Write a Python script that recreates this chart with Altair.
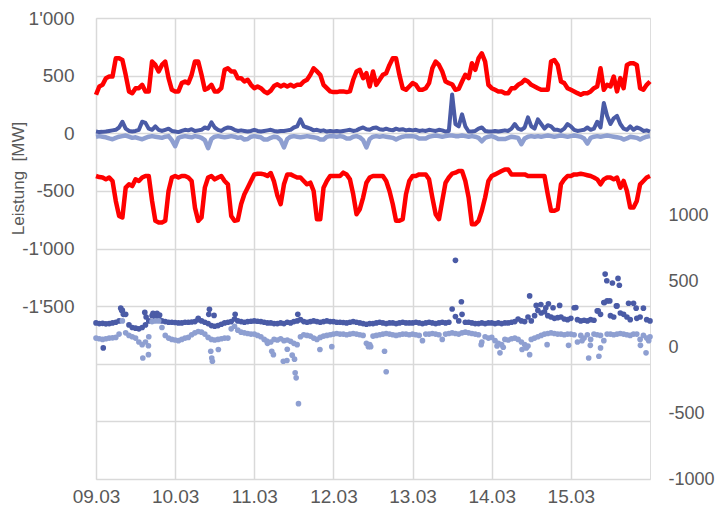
import altair as alt
import pandas as pd

hours = list(range(169))

# left axis series [MW]
red_upper = [334, 406, 420, 478, 492, 492, 650, 650, 635, 507, 363, 348, 391, 391, 420, 363, 363, 622, 593, 536, 593, 622, 478, 377,
             363, 363, 435, 449, 435, 507, 622, 622, 507, 377, 391, 420, 363, 363, 391, 550, 564, 536, 536, 478, 478, 449, 464, 420,
             391, 406, 391, 363, 348, 370, 410, 425, 406, 420, 406, 420, 406, 420, 420, 449, 464, 507, 564, 536, 507, 420, 391, 363,
             357, 357, 363, 363, 357, 363, 464, 536, 550, 478, 521, 406, 536, 420, 464, 507, 521, 593, 650, 650, 507, 391, 377, 406,
             435, 420, 377, 377, 391, 435, 564, 622, 593, 536, 449, 435, 425, 377, 385, 449, 507, 478, 607, 550, 650, 694, 622, 420,
             391, 377, 363, 363, 348, 348, 391, 391, 420, 435, 464, 449, 420, 406, 391, 377, 377, 377, 622, 636, 593, 449, 435, 391,
             377, 363, 348, 334, 348, 348, 363, 391, 406, 564, 377, 420, 406, 492, 363, 478, 391, 593, 607, 607, 593, 391, 377, 420, 449]
red_lower = [-371, -380, -384, -400, -384, -414, -587, -717, -731, -472, -443, -458, -400, -414, -384, -371, -371, -587, -760, -774, -774, -760, -501, -384,
             -371, -384, -371, -371, -384, -414, -645, -760, -731, -472, -384, -371, -400, -384, -371, -414, -443, -717, -760, -754, -616, -530, -472, -414,
             -357, -351, -351, -357, -371, -345, -420, -540, -616, -443, -357, -357, -371, -384, -384, -414, -443, -429, -501, -746, -746, -472, -414, -371,
             -371, -371, -371, -342, -357, -400, -530, -702, -659, -558, -429, -384, -371, -371, -371, -371, -414, -501, -616, -760, -760, -746, -530, -414,
             -371, -371, -357, -357, -357, -400, -558, -702, -746, -587, -429, -384, -350, -342, -328, -328, -414, -558, -789, -789, -760, -673, -558, -414,
             -371, -357, -342, -328, -314, -314, -357, -357, -357, -357, -357, -371, -371, -371, -371, -371, -371, -530, -673, -673, -659, -443, -400, -371,
             -371, -357, -357, -351, -357, -364, -371, -384, -400, -443, -400, -384, -384, -400, -384, -472, -414, -501, -645, -645, -587, -443, -414, -384, -371]
dark_line = [15, 10, 12, 15, 20, 25, 30, 50, 100, 40, 20, 15, 20, 30, 100, 90, 40, 30, 60, 30, 20, 30, 40, 20,
             15, 10, 20, 30, 25, 35, 20, 25, 30, 50, 40, 95, 50, 30, 20, 40, 50, 45, 30, 20, 25, 20, 15, 20,
             30, 20, 15, 20, 25, 30, 20, 15, 20, 20, 25, 30, 50, 60, 121, 60, 50, 40, 25, 30, 20, 25, 15, 20,
             15, 20, 15, 20, 25, 30, 20, 25, 40, 50, 35, 30, 45, 50, 35, 30, 40, 30, 25, 40, 30, 35, 25, 30,
             25, 30, 20, 25, 20, 30, 25, 20, 30, 25, 15, 20, 337, 80, 60, 164, 60, 15, 15, 20, 40, 50, 20, 15,
             15, 20, 15, 20, 25, 20, 40, 80, 40, 30, 50, 138, 60, 40, 120, 80, 40, 70, 60, 30, 30, 20, 40, 80,
             60, 30, 20, 25, 30, 50, 30, 40, 100, 50, 262, 150, 80, 130, 150, 80, 40, 30, 60, 30, 50, 40, 20, 25, 15]
light_line = [-30, -25, -30, -35, -45, -52, -40, -30, -25, -20, -30, -40, -35, -45, -52, -40, -30, -25, -30, -35, -40, -30, -25, -60,
              -112, -40, -30, -25, -30, -35, -25, -30, -40, -60, -130, -50, -30, -25, -30, -35, -30, -25, -30, -40, -35, -55, -50, -30,
              -25, -30, -35, -55, -55, -40, -30, -35, -60, -123, -50, -30, -25, -30, -35, -30, -25, -30, -35, -40, -55, -55, -30, -25,
              -25, -30, -25, -30, -45, -45, -30, -25, -35, -60, -123, -50, -30, -25, -30, -25, -30, -35, -40, -55, -40, -30, -25, -25,
              -25, -30, -45, -45, -45, -30, -25, -20, -25, -30, -25, -20, -20, -25, -25, -20, -25, -30, -25, -30, -40, -70, -40, -30,
              -25, -35, -50, -50, -50, -40, -30, -35, -40, -95, -45, -30, -25, -30, -25, -30, -25, -20, -25, -30, -25, -20, -25, -30,
              -25, -20, -25, -30, -45, -90, -40, -30, -25, -30, -25, -20, -25, -30, -35, -40, -55, -45, -30, -35, -40, -55, -40, -30, -25]

# right axis scatter series
dark_pts = [185, 180, 182, 178, 180, 185, 190, 200, 280, 250, 170, 150, 145, 140, 150, 170, 200, 240, 230, 220, 200, 195, 190, 190,
            188, 185, 185, 190, 190, 192, 195, 210, 200, 190, 180, 165, 160, 165, 175, 185, 190, 195, 215, 200, 195, 190, 195, 198,
            200, 198, 195, 190, 185, 185, 180, 180, 185, 180, 190, 185, 195, 200, 210, 195, 190, 195, 200, 195, 190, 195, 200, 195,
            195, 190, 190, 188, 185, 190, 195, 190, 185, 180, 175, 180, 180, 185, 190, 185, 180, 185, 185, 180, 185, 190, 185, 185,
            185, 190, 185, 180, 185, 190, 185, 180, 185, 190, 185, 190, 291, 233, 200, 250, 190, 190, 185, 180, 180, 185, 180, 185,
            185, 180, 185, 180, 185, 185, 190, 195, 215, 200, 195, 230, 200, 240, 280, 260, 270, 240, 230, 220, 225, 230, 215, 210,
            220, 300, 210, 200, 205, 200, 210, 205, 276, 250, 340, 352, 240, 230, 314, 260, 250, 230, 210, 334, 220, 230, 297, 210, 200]
light_pts = [70, 65, 60, 65, 70, 72, 75, 100, 200, 110, 90, 80, 70, 40, 20, 40, 80, 195, 200, 200, 150, 90, 70, 60,
             55, 50, 60, 70, 75, 95, 110, 120, 115, 100, 75, 60, 55, 60, 65, 70, 70, 140, 160, 130, 115, 110, 105, 100,
             100, 90, 80, 60, 30, 40, 60, 55, 65, 50, 55, 45, 30, 20, 80, 95, 90, 85, 70, 60, 75, 85, 90, 95,
             100, 105, 100, 100, 95, 100, 105, 100, 95, 90, 30, 20, 85, 90, 95, 100, 105, 100, 95, 90, 95, 100, 100, 95,
             100, 95, 90, 50, 100, 100, 105, 100, 95, 60, 100, 105, 110, 105, 100, 110, 115, 110, 105, 100, 95, 40, 80, 70,
             75, 50, 30, 20, 60, 55, 65, 70, 60, 40, 20, 10, 60, 70, 80, 90, 100, 105, 110, 105, 100, 100, 95, 100,
             100, 95, 40, 90, 70, 95, 60, 100, 95, 90, 50, 100, 100, 95, 100, 105, 100, 95, 90, 100, 100, 60, 90, 70, 80]

dark_extra_h = [2.2, 7.5, 7.8, 8.3, 14.8, 15.2, 17.3, 18.5, 19.3, 31, 34.4, 34.2, 35.8, 42.2, 61.2, 109, 110.8, 131.5, 133.5,
                134.9, 136.4, 137.2, 138.6, 140.6, 145.5, 152.3, 154.4, 154.9, 156.6, 158.3, 158.7, 154.2, 155.8, 157.8, 161.5, 163.8]
dark_extra_v = [-5, 297, 280, 250, 265, 230, 258, 258, 245, 219, 289, 250, 242, 250, 250, 660, 346, 390, 318,
                325, 300, 330, 300, 318, 302, 276, 556, 505, 488, 523, 471, 340, 352, 314, 334, 297]
light_extra_h = [14.2, 15.9, 15.9, 34.8, 35.1, 35.3, 37.1, 51.8, 53.3, 53.8, 56.8, 57.9, 58.0, 59.5, 60.2, 60.4, 60.7, 61.4,
                 67.9, 71.5, 82.6, 83.3, 87.5, 88.0, 116.8, 121.6, 122.5, 123.5, 129.2, 131.5, 130.5, 136.8, 143.3, 147.4,
                 149.4, 149.9, 152.5, 153.0, 165.1, 166.8, 167.6]
light_extra_v = [-81, -56, 12, -30, -81, -106, -17, 48, -30, -56, -106, -100, -15, -60, -90, -194, -232, -428,
                 -17, 5, 5, 5, -30, -186, 20, 10, -42, 0, -17, -56, -5, 20, 15, 50,
                 -81, 15, -68, -5, 15, -42, 50]

day_ticks = [0, 24, 48, 72, 96, 120, 144]

RED = "#FF0000"
DARK = "#4A5BA6"
LIGHT = "#8E9FD1"
GRID = "#D9D9D9"
TXT = "#595959"
FONT = "Liberation Sans"

lines = pd.concat([
    pd.DataFrame({"h": hours, "v": red_upper, "s": "red_upper"}),
    pd.DataFrame({"h": hours, "v": red_lower, "s": "red_lower"}),
])
blue_light = pd.DataFrame({"h": hours, "v": light_line})
blue_dark = pd.DataFrame({"h": hours, "v": dark_line})
pts_dark = pd.DataFrame({"h": hours + dark_extra_h, "v": dark_pts + dark_extra_v})
pts_light = pd.DataFrame({"h": hours + light_extra_h, "v": light_pts + light_extra_v})

x_enc = alt.X(
    "h:Q",
    scale=alt.Scale(domain=[0, 168], nice=False, zero=False),
    axis=alt.Axis(
        values=day_ticks,
        labelExpr="(datum.value/24 + 9 < 10 ? '0' : '') + (datum.value/24 + 9) + '.03'",
        grid=True, gridColor=GRID, gridWidth=1.5, domain=False, ticks=False,
        labelFlush=False, labelOverlap=False,
        labelFontSize=19, labelColor=TXT, labelFont=FONT, labelPadding=8, title=None,
    ),
)

y_left = alt.Y(
    "v:Q",
    scale=alt.Scale(domain=[-3000, 1000], nice=False, zero=False),
    axis=alt.Axis(
        values=list(range(-3000, 1001, 500)),
        labelExpr="datum.value < -1500 ? '' : (datum.value < 0 ? '-' : '') + replace(format(abs(datum.value), ','), ',', \"'\")",
        grid=True, gridColor=GRID, gridWidth=1.5, domain=False, ticks=False,
        labelFlush=False, labelOverlap=False,
        labelFontSize=19, labelColor=TXT, labelFont=FONT, labelPadding=22,
        title="Leistung\u00a0 [MW]", titleFontSize=17, titleFont=FONT, titleColor=TXT,
        titleFontWeight="normal", titleX=-78, titleY=160, titleBaseline="middle", titleAngle=270,
    ),
)

y_right = alt.Y(
    "v:Q",
    scale=alt.Scale(domain=[-1000, 2500], nice=False, zero=False),
    axis=alt.Axis(
        orient="right", values=[-1000, -500, 0, 500, 1000],
        labelExpr="(datum.value < 0 ? '-' : '') + abs(datum.value)",
        grid=False, domain=False, ticks=False,
        labelFlush=False, labelOverlap=False,
        labelFontSize=18, labelColor=TXT, labelFont=FONT, labelPadding=18, title=None,
    ),
)

red_layer = alt.Chart(lines).mark_line(color=RED, strokeWidth=4.5, strokeJoin="round").encode(
    x=x_enc, y=y_left, detail="s:N")
light_layer = alt.Chart(blue_light).mark_line(color=LIGHT, strokeWidth=4.5, strokeJoin="round").encode(
    x=x_enc, y=y_left)
dark_layer = alt.Chart(blue_dark).mark_line(color=DARK, strokeWidth=4, strokeJoin="round").encode(
    x=x_enc, y=y_left)

left = alt.layer(light_layer, dark_layer, red_layer)

pd_layer = alt.Chart(pts_dark).mark_circle(color=DARK, size=32, opacity=1).encode(x=x_enc, y=y_right)
pl_layer = alt.Chart(pts_light).mark_circle(color=LIGHT, size=32, opacity=1).encode(x=x_enc, y=y_right)
right = alt.layer(pd_layer, pl_layer)

chart = alt.layer(left, right).resolve_scale(y="independent").properties(
    width=554, height=461,
    autosize=alt.AutoSizeParams(type="none"),
    padding={"left": 88, "top": 10, "right": 65, "bottom": 29},
).configure_view(stroke=GRID, strokeWidth=1.5).configure(background="white")

chart.save("out.html", embed_options={"renderer": "svg", "actions": False})
